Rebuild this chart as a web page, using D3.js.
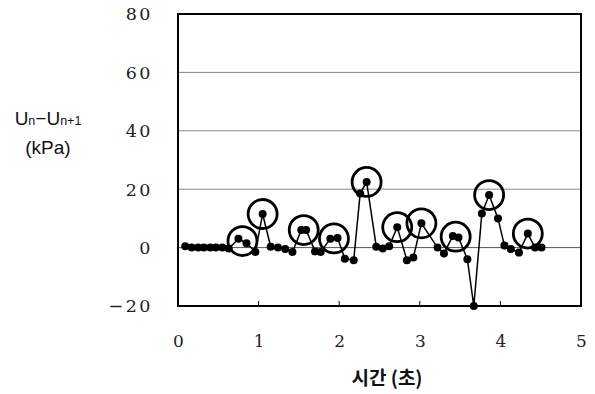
<!DOCTYPE html>
<html>
<head>
<meta charset="utf-8">
<script src="https://cdn.jsdelivr.net/npm/d3@7"></script>
<style>
  html, body { margin: 0; padding: 0; background: #fff; }
  svg { display: block; }
</style>
</head>
<body>
<svg id="chart" width="595" height="394"></svg>
<script>
// Time (s) of each sample
const times = [0.09, 0.17, 0.25, 0.32, 0.40, 0.47, 0.55, 0.63, 0.75, 0.85,
               0.96, 1.05, 1.15, 1.24, 1.33, 1.42, 1.53, 1.59, 1.70, 1.77,
               1.89, 1.98, 2.07, 2.18, 2.26, 2.34, 2.46, 2.54, 2.62, 2.72,
               2.84, 2.92, 3.02, 3.22, 3.30, 3.41, 3.48, 3.59, 3.67, 3.77,
               3.86, 3.97, 4.05, 4.13, 4.23, 4.34, 4.43, 4.51];
// Pressure difference U_n - U_n+1 (kPa)
const deltaU = [0.5, 0, 0, 0, 0, 0, 0, -0.3, 3.0, 1.5,
                -1.5, 11.5, 0.3, 0, -0.5, -1.5, 6.0, 6.0, -1.3, -1.5,
                3.0, 3.3, -3.8, -4.3, 18.5, 22.5, 0.3, -0.3, 0.5, 7.0,
                -4.3, -3.4, 8.3, 0, -2.0, 4.0, 3.5, -4.0, -20, 11.7,
                18.0, 10.0, 0.7, -0.5, -1.7, 4.8, 0, 0];
// Peaks marked with an open ring (indices into the series)
const peakGroups = [[8, 9], [11], [16, 17], [20, 21], [25], [29], [32], [35, 36], [40], [45]];

const xTicks = [0, 1, 2, 3, 4, 5];
const yTicks = [-20, 0, 20, 40, 60, 80];
const xTitle = "시간 (초)";

const serif = "DejaVu Serif, Liberation Serif, serif";

const svg = d3.select("#chart");
const plotL = 178, plotR = 581, plotT = 14, plotB = 306;

const x = d3.scaleLinear().domain([0, 5]).range([plotL, plotR]);
const y = d3.scaleLinear().domain([-20, 80]).range([plotB, plotT]);

// horizontal grid
svg.append("g")
  .selectAll("line")
  .data(yTicks.filter(v => v > -20 && v < 80))
  .join("line")
  .attr("x1", plotL).attr("x2", plotR)
  .attr("y1", d => y(d)).attr("y2", d => y(d))
  .attr("stroke", d => d === 0 ? "#555" : "#888")
  .attr("stroke-width", 1);

// bottom axis labels
const xAxis = d3.axisBottom(x).tickValues(xTicks).tickSize(0).tickPadding(0)
  .tickFormat(d3.format("d"));
const gx = svg.append("g").attr("transform", `translate(0,${plotB})`).call(xAxis)
  .attr("font-family", serif).attr("font-size", 17);
gx.select(".domain").remove();
gx.selectAll("text")
  .attr("dy", null)
  .attr("y", 41)
  .attr("fill", "#222");
// short inward ticks on the bottom edge
svg.append("g")
  .selectAll("line")
  .data(xTicks.filter(v => v > 0 && v < 5))
  .join("line")
  .attr("x1", d => x(d)).attr("x2", d => x(d))
  .attr("y1", plotB).attr("y2", plotB - 5)
  .attr("stroke", "#000").attr("stroke-width", 1);

// left axis labels
const yAxis = d3.axisLeft(y).tickValues(yTicks).tickSize(0).tickPadding(0)
  .tickFormat(d => d < 0 ? "\u2212" + Math.abs(d) : String(d));
const gy = svg.append("g").attr("transform", `translate(${plotL - 25},0)`).call(yAxis)
  .attr("font-family", serif).attr("font-size", 17.5);
gy.select(".domain").remove();
gy.selectAll("text")
  .attr("dy", "0.34em")
  .attr("letter-spacing", "2.5px")
  .attr("fill", "#222");

// series line
const pts = times.map((t, i) => [t, deltaU[i]]);
svg.append("path")
  .datum(pts)
  .attr("fill", "none")
  .attr("stroke", "#000")
  .attr("stroke-width", 1.5)
  .attr("d", d3.line().x(d => x(d[0])).y(d => y(d[1])));

// sample markers
svg.append("g")
  .selectAll("circle")
  .data(pts)
  .join("circle")
  .attr("cx", d => x(d[0])).attr("cy", d => y(d[1]))
  .attr("r", 4)
  .attr("fill", "#000");

// rings around peaks
svg.append("g")
  .selectAll("circle")
  .data(peakGroups)
  .join("circle")
  .attr("cx", g => d3.mean(g, i => x(times[i])))
  .attr("cy", g => d3.mean(g, i => y(deltaU[i])))
  .attr("r", 14.5)
  .attr("fill", "none")
  .attr("stroke", "#000")
  .attr("stroke-width", 2.8);

// plot frame
svg.append("rect")
  .attr("x", plotL).attr("y", plotT)
  .attr("width", plotR - plotL).attr("height", plotB - plotT)
  .attr("fill", "none")
  .attr("stroke", "#000")
  .attr("stroke-width", 2);

// y-axis title
const yt = svg.append("text")
  .attr("x", 48).attr("y", 125)
  .attr("text-anchor", "middle")
  .attr("font-family", "Liberation Sans, Arial, sans-serif")
  .attr("font-size", 19)
  .attr("fill", "#111");
yt.append("tspan").text("U");
yt.append("tspan").attr("font-size", 12.5).text("n");
yt.append("tspan").text("\u2212U");
yt.append("tspan").attr("font-size", 12.5).text("n+1");
svg.append("text")
  .attr("x", 48).attr("y", 154)
  .attr("text-anchor", "middle")
  .attr("font-family", "Liberation Sans, Arial, sans-serif")
  .attr("font-size", 19)
  .attr("fill", "#111")
  .text("(kPa)");

// x-axis title
svg.append("text")
  .attr("x", 387).attr("y", 385)
  .attr("text-anchor", "middle")
  .attr("font-family", "Noto Sans CJK KR, sans-serif")
  .attr("font-weight", 700)
  .attr("font-size", 19)
  .attr("fill", "#111")
  .text(xTitle);
</script>
</body>
</html>
